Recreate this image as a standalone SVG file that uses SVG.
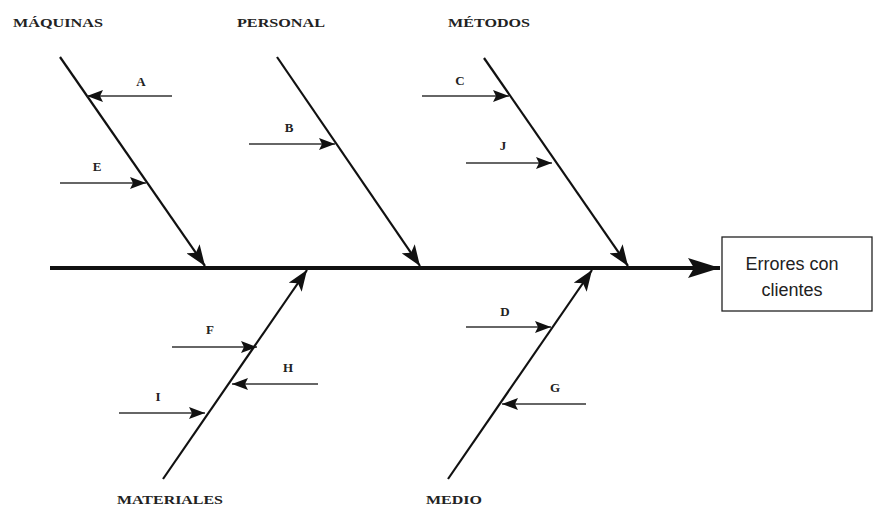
<svg xmlns="http://www.w3.org/2000/svg" width="874" height="510" viewBox="0 0 874 510">
<style>
.bone{stroke:#111;stroke-width:2.2;fill:none}
.sub{stroke:#333;stroke-width:1.3;fill:none}
.spine{stroke:#111;stroke-width:4;fill:none}
.cat{font-family:"Liberation Serif","Times New Roman",serif;font-weight:bold;font-size:13px;fill:#222}
.lbl{font-family:"Liberation Serif","Times New Roman",serif;font-weight:bold;font-size:13px;fill:#222;text-anchor:middle}
.box{fill:#fff;stroke:#222;stroke-width:1.3}
.btxt{font-family:"Liberation Sans",Arial,sans-serif;font-size:18px;fill:#222;text-anchor:middle}
</style>
<defs>
<marker id="big" markerUnits="userSpaceOnUse" markerWidth="24" markerHeight="16" refX="21" refY="8" orient="auto"><path d="M0,0 L21,8 L0,16 L5,8 Z" fill="#111"/></marker>
<marker id="spineHead" markerUnits="userSpaceOnUse" markerWidth="34" markerHeight="22" refX="32" refY="11" orient="auto"><path d="M0,1 L32,11 L0,21 L6,11 Z" fill="#111"/></marker>
<marker id="small" markerUnits="userSpaceOnUse" markerWidth="18" markerHeight="12" refX="16" refY="6" orient="auto"><path d="M0,0 L16,6 L0,12 L3,6 Z" fill="#111"/></marker>
</defs>
<g id="connectors">
<line class="spine" x1="50" y1="268" x2="720" y2="268" marker-end="url(#spineHead)"/>
<line class="bone" x1="60" y1="57" x2="205" y2="266" marker-end="url(#big)"/>
<line class="bone" x1="277" y1="57" x2="420" y2="266" marker-end="url(#big)"/>
<line class="bone" x1="484" y1="58" x2="628" y2="266" marker-end="url(#big)"/>
<line class="bone" x1="163" y1="479" x2="307" y2="270" marker-end="url(#big)"/>
<line class="bone" x1="448" y1="479" x2="592" y2="270" marker-end="url(#big)"/>
<line class="sub" x1="172" y1="96" x2="87" y2="96" marker-end="url(#small)"/>
<line class="sub" x1="60" y1="183" x2="146" y2="183" marker-end="url(#small)"/>
<line class="sub" x1="249" y1="144" x2="335" y2="144" marker-end="url(#small)"/>
<line class="sub" x1="422" y1="96" x2="509" y2="96" marker-end="url(#small)"/>
<line class="sub" x1="466" y1="163" x2="552" y2="163" marker-end="url(#small)"/>
<line class="sub" x1="172" y1="347" x2="257" y2="347" marker-end="url(#small)"/>
<line class="sub" x1="318" y1="384" x2="232" y2="384" marker-end="url(#small)"/>
<line class="sub" x1="119" y1="413" x2="205" y2="413" marker-end="url(#small)"/>
<line class="sub" x1="466" y1="327" x2="551" y2="327" marker-end="url(#small)"/>
<line class="sub" x1="586" y1="404" x2="502" y2="404" marker-end="url(#small)"/>
</g>
<g id="effect">
<rect class="box" x="722" y="237" width="150" height="74"/>
<text class="btxt" x="792" y="270">Errores con</text>
<text class="btxt" x="792" y="296">clientes</text>
</g>
<g id="cat-maquinas"><text class="cat" x="13" y="27" textLength="90" lengthAdjust="spacingAndGlyphs">MÁQUINAS</text></g>
<g id="cat-personal"><text class="cat" x="237" y="27" textLength="88" lengthAdjust="spacingAndGlyphs">PERSONAL</text></g>
<g id="cat-metodos"><text class="cat" x="448" y="27" textLength="82" lengthAdjust="spacingAndGlyphs">MÉTODOS</text></g>
<g id="cat-materiales"><text class="cat" x="117" y="504" textLength="106" lengthAdjust="spacingAndGlyphs">MATERIALES</text></g>
<g id="cat-medio"><text class="cat" x="426" y="504" textLength="56" lengthAdjust="spacingAndGlyphs">MEDIO</text></g>
<g id="cause-A"><text class="lbl" x="141" y="86">A</text></g>
<g id="cause-E"><text class="lbl" x="97" y="171">E</text></g>
<g id="cause-B"><text class="lbl" x="289" y="132">B</text></g>
<g id="cause-C"><text class="lbl" x="460" y="85">C</text></g>
<g id="cause-J"><text class="lbl" x="503" y="150">J</text></g>
<g id="cause-F"><text class="lbl" x="210" y="334">F</text></g>
<g id="cause-H"><text class="lbl" x="288" y="372">H</text></g>
<g id="cause-I"><text class="lbl" x="158" y="401">I</text></g>
<g id="cause-D"><text class="lbl" x="505" y="316">D</text></g>
<g id="cause-G"><text class="lbl" x="555" y="392">G</text></g>
</svg>
